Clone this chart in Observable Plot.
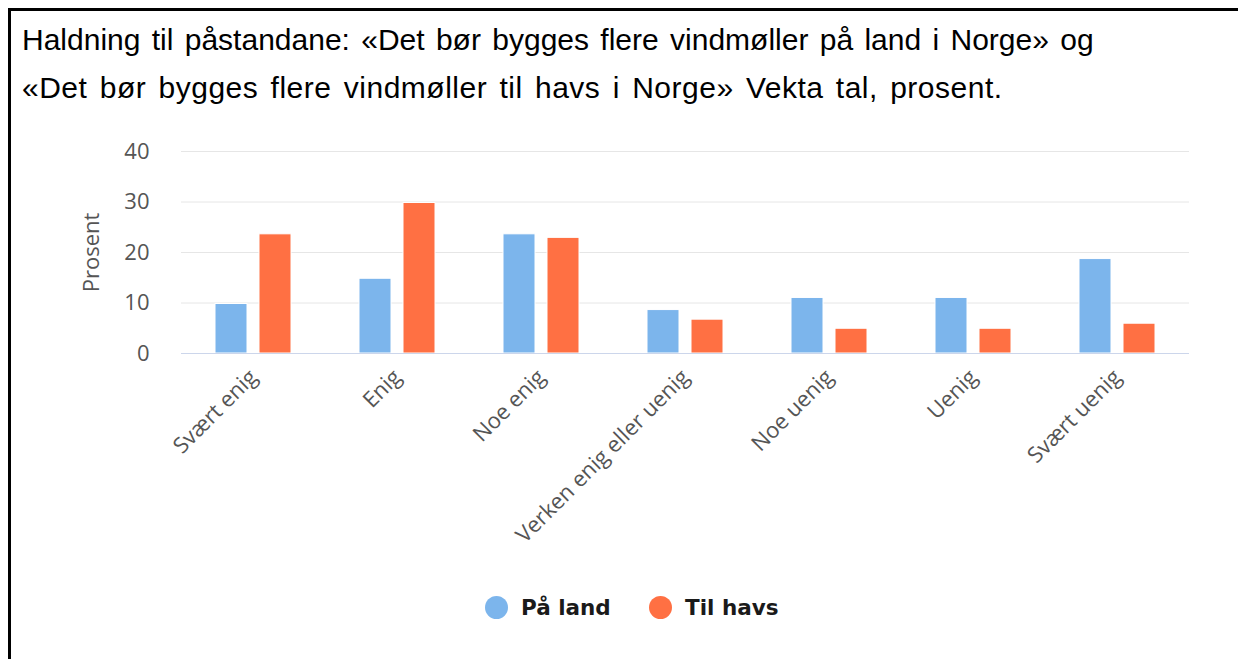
<!DOCTYPE html>
<html><head><meta charset="utf-8">
<script src="https://cdn.jsdelivr.net/npm/d3@7"></script>
<script src="https://cdn.jsdelivr.net/npm/@observablehq/plot@0.6"></script>
<style>
html,body{margin:0;padding:0;background:#fff}
body{width:1238px;height:659px;overflow:hidden;position:relative}
#frame{position:absolute;left:8px;top:8px;width:1240px;height:660px;border-top:3px solid #000;border-left:3px solid #000}
.tl{position:absolute;left:22px;font-family:"Liberation Sans",Arial,sans-serif;font-size:30px;line-height:48px;color:#000;white-space:nowrap}
#chart{position:absolute;left:0;top:120px}
.li{position:absolute;top:594px;height:26px;display:flex;align-items:center;font-family:"DejaVu Sans",sans-serif;font-weight:bold;font-size:21.5px;color:#1a1a1a}
.dot{display:inline-block;width:23px;height:23px;border-radius:50%;margin-right:13px}
</style></head>
<body>
<div id="frame"></div>
<div class="tl" style="top:16px;word-spacing:3px">Haldning til påstandane: «Det bør bygges flere vindmøller på land i Norge» og</div>
<div class="tl" style="top:64px;word-spacing:3.5px;letter-spacing:0.5px">«Det bør bygges flere vindmøller til havs i Norge» Vekta tal, prosent.</div>
<div id="chart"></div>
<div id="legend"></div>
<script>
const categories = ["Svært enig","Enig","Noe enig","Verken enig eller uenig","Noe uenig","Uenig","Svært uenig"];
const series = ["På land","Til havs"];
const paLand = [9.8,14.8,23.6,8.6,11.0,11.0,18.7];
const tilHavs = [23.6,29.8,22.9,6.7,4.9,4.9,5.9];
const yTicks = [0,10,20,30,40];
const colors = ["#7cb5ec","#ff7043"];

const data = categories.flatMap((c,i)=>[
  {cat:c, series:series[0], value:paLand[i]},
  {cat:c, series:series[1], value:tilHavs[i]}
]);

const chart = Plot.plot({
  width:1238, height:440,
  marginLeft:178, marginRight:47, marginTop:31, marginBottom:207,
  style:{fontFamily:'"Open Sans", sans-serif', background:"transparent", overflow:"visible"},
  fx:{domain:categories, paddingInner:0, paddingOuter:0, label:null},
  x:{domain:series, paddingInner:0.267, paddingOuter:0.741, axis:null},
  y:{domain:[0,40], label:"Prosent"},
  color:{domain:series, range:colors},
  marks:[
    Plot.ruleY(yTicks.filter(d=>d>0), {stroke:"#e6e6e6", strokeWidth:1}),
    Plot.barY(data,{fx:"cat", x:"series", y:"value", fill:"series", stroke:"#fff", strokeWidth:1}),
    Plot.ruleY([0],{stroke:"#ccd6eb"}),
    Plot.axisY(yTicks,{anchor:"left", tickSize:0, tickPadding:32, fontSize:22, fill:"#555", label:null}),
    Plot.axisY({anchor:"left", ticks:[], tickSize:0, fontSize:22, fill:"#555", label:"Prosent", labelAnchor:"center", labelArrow:"none", labelOffset:98}),
    Plot.axisFx({anchor:"bottom", tickRotate:-45, tickSize:0, tickPadding:20, fontSize:22, fill:"#555", label:null})
  ]
});
document.getElementById("chart").appendChild(chart);

const legend = document.getElementById("legend");
const lefts = [485, 649];
series.forEach((s,i)=>{
  const d = document.createElement("div");
  d.className = "li";
  d.style.left = lefts[i] + "px";
  const dot = document.createElement("span");
  dot.className = "dot";
  dot.style.background = colors[i];
  d.appendChild(dot);
  d.appendChild(document.createTextNode(s));
  legend.appendChild(d);
});
</script>
</body></html>
